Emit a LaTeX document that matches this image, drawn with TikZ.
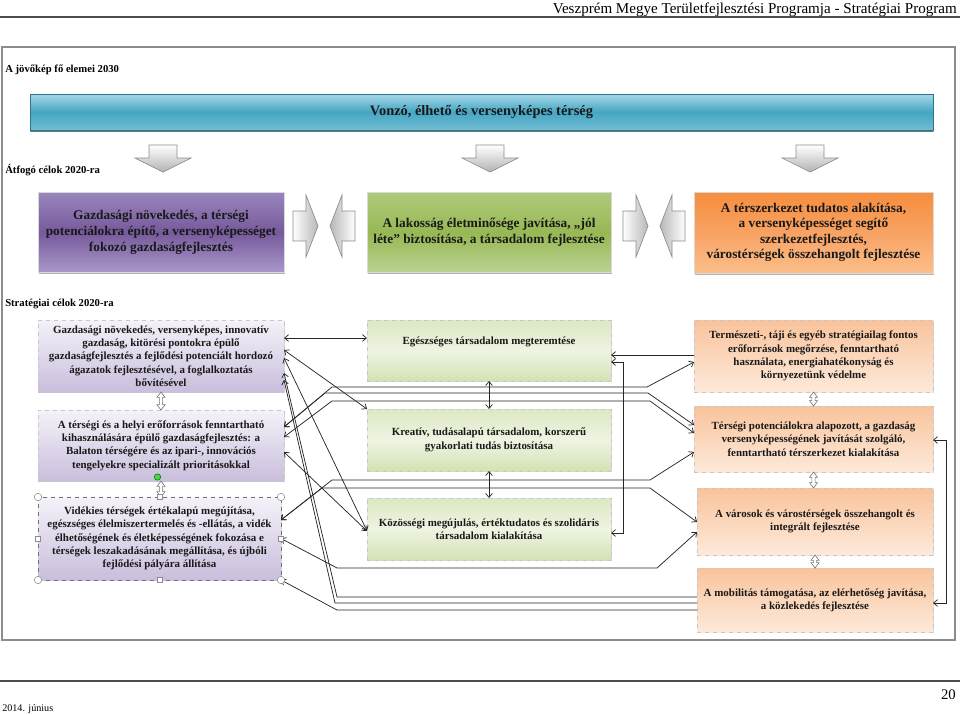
\documentclass[tikz,border=0pt]{standalone}
\usepackage{fontspec}
\setmainfont{Liberation Serif}
\usetikzlibrary{arrows.meta,calc,positioning,shadows}
\definecolor{bartop}{HTML}{A6D8E8}
\definecolor{barmid}{HTML}{45A6C3}
\definecolor{barbot}{HTML}{72BDD4}
\definecolor{violtop}{HTML}{9A85BC}
\definecolor{violmid}{HTML}{765A9C}
\definecolor{violbot}{HTML}{AA98C9}
\definecolor{grntop}{HTML}{B0CA7C}
\definecolor{grnmid}{HTML}{97B853}
\definecolor{grnbot}{HTML}{BCD292}
\definecolor{orgtop}{HTML}{F68E3E}
\definecolor{orgmid}{HTML}{F8A263}
\definecolor{orgbot}{HTML}{FBBE8A}
\definecolor{lilactop}{HTML}{F5F2F9}
\definecolor{lilacbot}{HTML}{C9BEDC}
\definecolor{leaftop}{HTML}{DCE8C3}
\definecolor{leafmid}{HTML}{EEF4E2}
\definecolor{leafbot}{HTML}{D3E2B4}
\definecolor{peachtop}{HTML}{F9C39B}
\definecolor{peachbot}{HTML}{FDEADB}
\def\pxu{0.75pt}
\tikzset{goal/.style = {rectangle, draw=black!15, inner sep=1pt, outer sep=0pt, align=center, text=black!90,
        font=\fontsize{10}{12}\selectfont\bfseries,
        drop shadow={shadow xshift=0.8pt, shadow yshift=-1.4pt, fill=black!60}},
    target/.style = {rectangle, draw=black!22, dashed, inner sep=1pt, outer sep=0pt, align=center, text=black!90,
        font=\fontsize{8.2}{10}\selectfont\bfseries,
        drop shadow={shadow xshift=1pt, shadow yshift=-1pt, fill=black!30}},
    label/.style = {anchor=west, inner sep=0pt, font=\fontsize{8}{9}\selectfont\bfseries},
    link/.style = {<->, black!85, line width=0.55pt},
    blockarrow/.style = {draw=black!45, line width=0.5pt},
    updown/.style = {draw=black!55, fill=white, line width=0.45pt},
    handle/.style = {draw=black!45, fill=white, line width=0.4pt}
}
% hollow up-down arrow between two stacked boxes
\newcommand\UpDown[2]{%
    \draw[updown] let \p1=(#1.south), \p2=(#2.north) in
      (\x1,\y1) -- (\x1+3pt,\y1-4pt) -- (\x1+1.2pt,\y1-4pt) -- (\x1+1.2pt,\y2+4pt) -- (\x1+3pt,\y2+4pt)
      -- (\x1,\y2) -- (\x1-3pt,\y2+4pt) -- (\x1-1.2pt,\y2+4pt) -- (\x1-1.2pt,\y1-4pt) -- (\x1-3pt,\y1-4pt) -- cycle;
    }

\begin{document}
\begin{tikzpicture}[x=0.75pt, y=-0.75pt, >={Straight Barb[length=3pt,width=5pt]}]
    \tikzstyle{lbox}=[target, top color=lilactop, bottom color=lilacbot, minimum width=246*\pxu];
    \tikzstyle{mbox}=[target, top color=leaftop, bottom color=leafbot, middle color=leafmid, minimum width=244*\pxu];
    \tikzstyle{rbox}=[target, top color=peachtop, bottom color=peachbot];
 \useasboundingbox (0,0) rectangle (960,714);

 % page header and footer
 \node[anchor=base east, inner sep=0pt, font=\fontsize{11.3}{13}\selectfont] (head) at (957,13) {Veszprém Megye Területfejlesztési Programja - Stratégiai Program};
 \draw[black!70, line width=0.9pt] (0,17) -- (960,17);
 \draw[black!70, line width=0.9pt] (0,681) -- (960,681);
 \node[anchor=base east, inner sep=0pt, font=\fontsize{11}{13}\selectfont] (page) at (956,699) {20};
 \node[anchor=base west, inner sep=0pt, font=\fontsize{7.6}{9}\selectfont] (date) at (2,711) {2014. június};
 \draw[black!45, line width=1.5pt] (2,47) rectangle (955,640);

 \node[label] (lvision) at (5,70) {A jövőkép fő elemei 2030};
 \node[label] (lgoals) at (5,170) {Átfogó célok 2020-ra};
 \node[label] (lstrat) at (5,304) {Stratégiai célok 2020-ra};

 \node[goal, draw=barmid!70!black, top color=bartop, bottom color=barbot, middle color=barmid,
       minimum width=903*\pxu, minimum height=36*\pxu, font=\fontsize{10.8}{12}\selectfont\bfseries,
       drop shadow={shadow xshift=0pt, shadow yshift=-1.5pt, fill=barmid!40!black}] (vision) at (481.5,112)
       {Vonzó, élhető és versenyképes térség};

 \foreach \c in {163,490,810}
   \path[blockarrow, top color=white, bottom color=black!30] ({\c-14},145) -- ({\c+14},145) -- ({\c+14},158)
     -- ({\c+28},158) -- (\c,172) -- ({\c-28},158) -- ({\c-14},158) -- cycle;

 \node[goal, top color=violtop, bottom color=violbot, middle color=violmid, minimum width=246*\pxu, minimum height=80*\pxu] (econ) at (161,232.5)
   {Gazdasági növekedés, a térségi\\ potenciálokra építő, a versenyképességet\\ fokozó gazdaságfejlesztés};
 \node[goal, top color=grntop, bottom color=grnbot, middle color=grnmid, minimum width=244*\pxu, minimum height=80*\pxu] (soc) at (489,232.5)
   {A lakosság életminősége javítása, „jól\\ léte” biztosítása, a társadalom fejlesztése};
 \node[goal, top color=orgtop, bottom color=orgbot, middle color=orgmid, minimum width=239*\pxu, minimum height=81*\pxu,
       font=\fontsize{10}{11.6}\selectfont\bfseries] (space) at (813.5,232.5)
   {A térszerkezet tudatos alakítása,\\ a versenyképességet segítő\\ szerkezetfejlesztés,\\ várostérségek összehangolt fejlesztése};

 \foreach \a in {293,623}
   \path[blockarrow, left color=white, right color=black!28] (\a,211) -- ({\a+13},211) -- ({\a+13},195)
     -- ({\a+25},226) -- ({\a+13},257) -- ({\a+13},241) -- (\a,241) -- cycle;
 \foreach \b in {355,685}
   \path[blockarrow, right color=white, left color=black!28] (\b,211) -- ({\b-13},211) -- ({\b-13},195)
     -- ({\b-25},226) -- ({\b-13},257) -- ({\b-13},241) -- (\b,241) -- cycle;

 % strategic targets
 \node[lbox, minimum height=72*\pxu] (L1) at (161,356) {Gazdasági növekedés, versenyképes, innovatív\\ gazdaság, kitörési pontokra épülő\\ gazdaságfejlesztés a fejlődési potenciált hordozó\\ ágazatok fejlesztésével, a foglalkoztatás\\ bővítésével};
 \node[lbox, minimum height=71*\pxu] (L2) at (161,445.5) {A térségi és a helyi erőforrások fenntartható\\ kihasználására épülő gazdaságfejlesztés: a\\ Balaton térségére és az ipari-, innovációs\\ tengelyekre specializált prioritásokkal};
 \node[lbox, draw=black!55, minimum width=243*\pxu, minimum height=83*\pxu] (L3) at (159.5,538.5) {Vidékies térségek értékalapú megújítása,\\ egészséges élelmiszertermelés és -ellátás, a vidék\\ élhetőségének és életképességének fokozása e\\ térségek leszakadásának megállítása, és újbóli\\ fejlődési pályára állítása};

 \node[mbox, minimum height=61*\pxu] (M1) at (489,350.5) {Egészséges társadalom megteremtése\\[4pt]};
 \node[mbox, minimum height=62*\pxu] (M2) at (489,440) {Kreatív, tudásalapú társadalom, korszerű\\ gyakorlati tudás biztosítása};
 \node[mbox, minimum height=62*\pxu] (M3) at (489,529) {Közösségi megújulás, értéktudatos és szolidáris\\ társadalom kialakítása};

 \node[rbox, minimum width=239*\pxu, minimum height=72*\pxu] (R1) at (813.5,356) {Természeti-, táji és egyéb stratégiailag fontos\\ erőforrások megőrzése, fenntartható\\ használata, energiahatékonyság és\\ környezetünk védelme};
 \node[rbox, minimum width=239*\pxu, minimum height=66*\pxu] (R2) at (813.5,439) {Térségi potenciálokra alapozott, a gazdaság\\ versenyképességének javítását szolgáló,\\ fenntartható térszerkezet kialakítása};
 \node[rbox, minimum width=236*\pxu, minimum height=67*\pxu] (R3) at (815,521.5) {A városok és várostérségek összehangolt és\\ integrált fejlesztése};
 \node[rbox, minimum width=236*\pxu, minimum height=64*\pxu] (R4) at (815,600) {A mobilitás támogatása, az elérhetőség javítása,\\ a közlekedés fejlesztése};

 \UpDown{L1}{L2}
 \UpDown{L2}{L3}
 \UpDown{R1}{R2}
 \UpDown{R2}{R3}
 \UpDown{R3}{R4}
 \draw[link] (M1.south) -- (M2.north);
 \draw[link] (M2.south) -- (M3.north);

 % cross links
 \draw[link] (L1.east |- 0,338) -- (M1.west |- 0,338);
 \draw[link] (L1.east |- 0,350) -- (M2.north west);
 \draw[link] (L1.east |- 0,358) -- (M3.west |- 0,531);
 \draw[link] (L2.east |- 0,452) -- (M3.west |- 0,531);
 \draw[link] (L2.east |- 0,427) -- (332,387) -- (647,387) -- (R1.west |- 0,362);
 \draw[link] (L2.east |- 0,427) -- (325,393) -- (648,393) -- (R2.west |- 0,425);
 \draw[link] (L2.east |- 0,437) -- (332,401) -- (650,401) -- (R2.west |- 0,433);
 \draw[link] (L3.east |- 0,520) -- (332,480) -- (650,480) -- (R2.west |- 0,452);
 \draw[link] (L3.east |- 0,520) -- (322,488) -- (650,488) -- (R3.west |- 0,522);
 \draw[link] (L3.east) -- (337,568) -- (657,568) -- (R3.west |- 0,532);
 \draw[link, <-] (L1.east |- 0,373) -- (337,597) -- (R4.west |- 0,597);
 \draw[link, <-] (L1.east |- 0,380) -- (335,603) -- (R4.west |- 0,603);
 \draw[link, <-] (L3.south east) -- (337,610) -- (R4.west |- 0,610);
 \draw[link, <-] (M1.east |- 0,355) -- (R1.west |- 0,355);
 \draw[link] (M1.east |- 0,362) -- (623,362) -- (623,533) -- (M3.east |- 0,533);
 \draw[link] (R2.east |- 0,440) -- (946,440) -- (946,603) -- (R4.east |- 0,603);

 % selection handles of the last box
 \foreach \a in {north west,north east,south west,south east}
   \draw[handle] (L3.\a) circle (2.8pt);
 \foreach \a in {north,south,west,east}
   \draw[handle] ($(L3.\a)+(-2pt,-2pt)$) rectangle ++(4pt,4pt);
 \draw[draw=green!45!black, fill=green!75!black!70] ($(L3.north)+(-2,-20)$) circle (2.4pt);
\end{tikzpicture}
\end{document}
